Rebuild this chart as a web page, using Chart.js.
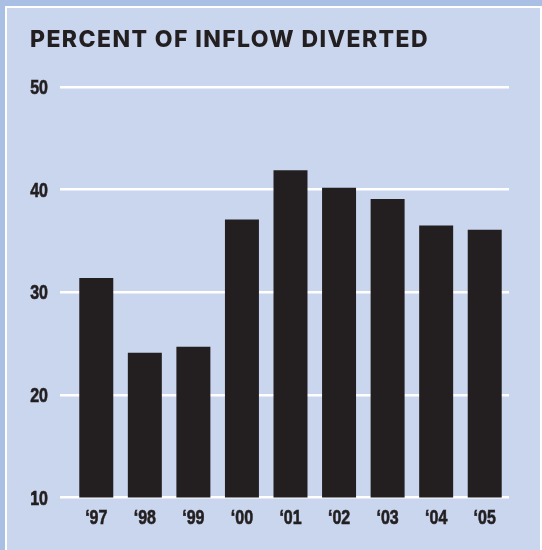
<!DOCTYPE html>
<html>
<head>
<meta charset="utf-8">
<script src="https://cdn.jsdelivr.net/npm/chart.js@4/dist/chart.umd.min.js"></script>
<style>
  body { margin: 0; width: 542px; height: 550px; overflow: hidden; background: #aabfe4; }
  #panel { position: absolute; left: 5px; top: 6px; width: 533px; height: 560px;
           background: #c9d6ee; border: 2px solid #ffffff; }
  #wrap { position: absolute; left: 0; top: 0; width: 542px; height: 550px; }
</style>
</head>
<body>
<div id="panel"></div>
<div id="wrap"><canvas id="chart"></canvas></div>
<script>
var years = ['\u201897', '\u201898', '\u201899', '\u201800', '\u201801', '\u201802', '\u201803', '\u201804', '\u201805'];
var diverted = [31.4, 24.1, 24.7, 37.1, 41.9, 40.2, 39.1, 36.5, 36.1];
var yTicks = [10, 20, 30, 40, 50];

var ink = '#231f20';

// no condensed face is installed, so tick labels are drawn squeezed by hand
function drawSqueezed(ctx, text, px, py)
{
    ctx.save();
    ctx.translate(px, py);
    ctx.scale(0.82, 1);
    ctx.fillText(text, 0, 0);
    ctx.strokeText(text, 0, 0);
    ctx.restore();
}

var tickLabels = {
    id: 'tickLabels',
    beforeDraw: function(chart) {
        // wide tracking for the title (drawn with the layout boxes)
        chart.ctx.letterSpacing = '1.4px';
    },
    beforeDatasetsDraw: function(chart) {
        chart.ctx.letterSpacing = '0px';
    },
    afterDraw: function(chart) {
        var ctx = chart.ctx;
        var area = chart.chartArea;
        var xs = chart.scales.x, ys = chart.scales.y;
        ctx.save();
        ctx.letterSpacing = '0px';
        ctx.fillStyle = ink;
        ctx.strokeStyle = ink;
        ctx.lineWidth = 0.6;
        ctx.font = "bold 19.5px 'Liberation Sans', Arial, sans-serif";
        ctx.textBaseline = 'alphabetic';
        ctx.textAlign = 'right';
        yTicks.forEach(function(v) {
            drawSqueezed(ctx, String(v), area.left - 24, ys.getPixelForValue(v) + 7);
        });
        ctx.textAlign = 'center';
        years.forEach(function(label, i) {
            drawSqueezed(ctx, label, xs.getPixelForValue(i), area.bottom + 26.5);
        });
        ctx.restore();
    }
};

function displayChart()
{
    var ctx = document.getElementById('chart').getContext('2d');
    var chart = new Chart(ctx, {
        type: 'bar',
        data: {
            labels: years,
            datasets: [{
                label: 'Percent of inflow diverted',
                data: diverted,
                backgroundColor: ink,
                borderWidth: 0,
                barPercentage: 0.7,
                categoryPercentage: 1
            }]
        },
        options: {
            responsive: true,
            maintainAspectRatio: false,
            animation: false,
            layout: {
                padding: { left: 30, right: 33, top: 0, bottom: 12.5 }
            },
            plugins: {
                legend: { display: false },
                tooltip: { enabled: false },
                title: {
                    display: true,
                    text: 'PERCENT OF INFLOW DIVERTED',
                    align: 'start',
                    color: ink,
                    font: { family: "Inter, 'Open Sans', sans-serif", size: 23, weight: '800' },
                    padding: { top: 26, bottom: 33.5 }
                }
            },
            scales: {
                x: {
                    grid: { display: false },
                    border: { display: false },
                    ticks: { display: false },
                    afterFit: function(scale) { scale.height = 40; }
                },
                y: {
                    min: 10,
                    max: 50,
                    afterBuildTicks: function(scale) {
                        scale.ticks = yTicks.map(function(v) { return { value: v }; });
                    },
                    afterFit: function(scale) { scale.width = 42; },
                    grid: {
                        color: '#ffffff',
                        lineWidth: 2.5,
                        tickLength: 12,
                        tickColor: '#ffffff'
                    },
                    border: { display: false },
                    ticks: { display: false }
                }
            }
        },
        plugins: [tickLabels]
    });
}

window.onload = function() {
    displayChart();
}
</script>
</body>
</html>
